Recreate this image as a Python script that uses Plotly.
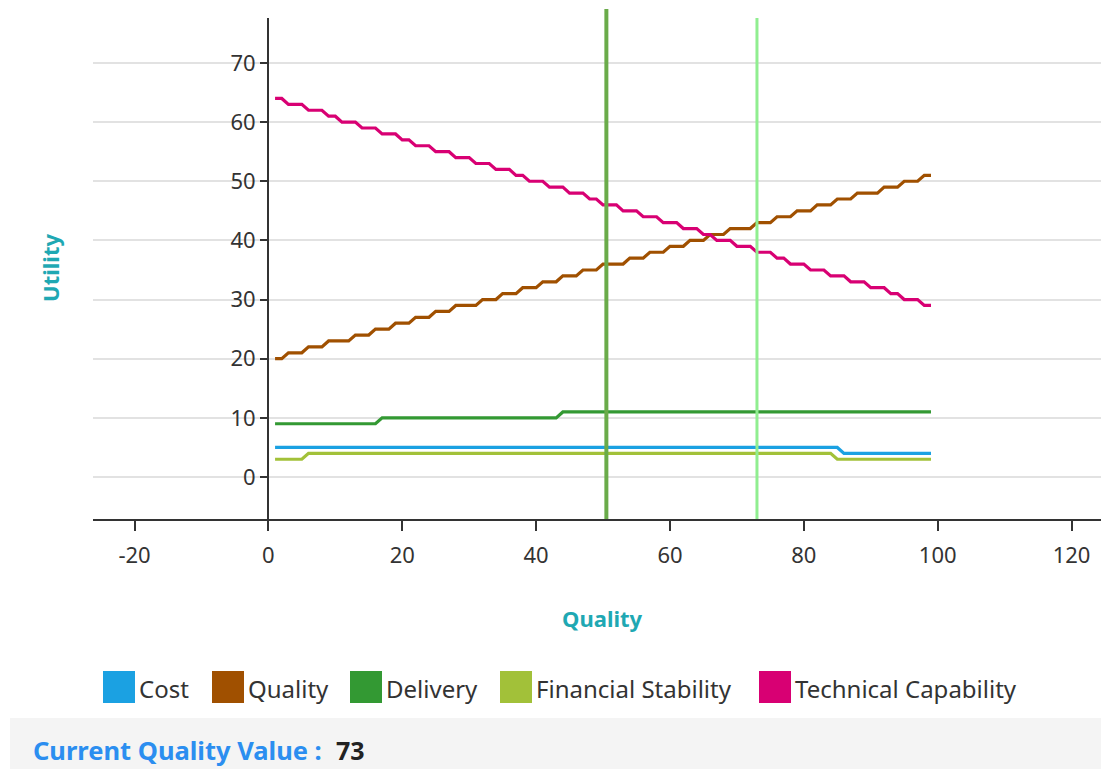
import plotly.graph_objects as go

# Quality levels evaluated (x axis)
quality_levels = list(range(1, 100))

# Utility of each criterion at every quality level
cost = [
    5, 5, 5, 5, 5, 5, 5, 5, 5, 5,
    5, 5, 5, 5, 5, 5, 5, 5, 5, 5,
    5, 5, 5, 5, 5, 5, 5, 5, 5, 5,
    5, 5, 5, 5, 5, 5, 5, 5, 5, 5,
    5, 5, 5, 5, 5, 5, 5, 5, 5, 5,
    5, 5, 5, 5, 5, 5, 5, 5, 5, 5,
    5, 5, 5, 5, 5, 5, 5, 5, 5, 5,
    5, 5, 5, 5, 5, 5, 5, 5, 5, 5,
    5, 5, 5, 5, 5, 4, 4, 4, 4, 4,
    4, 4, 4, 4, 4, 4, 4, 4, 4,
]
quality = [
    20, 20, 21, 21, 21, 22, 22, 22, 23, 23,
    23, 23, 24, 24, 24, 25, 25, 25, 26, 26,
    26, 27, 27, 27, 28, 28, 28, 29, 29, 29,
    29, 30, 30, 30, 31, 31, 31, 32, 32, 32,
    33, 33, 33, 34, 34, 34, 35, 35, 35, 36,
    36, 36, 36, 37, 37, 37, 38, 38, 38, 39,
    39, 39, 40, 40, 40, 41, 41, 41, 42, 42,
    42, 42, 43, 43, 43, 44, 44, 44, 45, 45,
    45, 46, 46, 46, 47, 47, 47, 48, 48, 48,
    48, 49, 49, 49, 50, 50, 50, 51, 51,
]
delivery = [
    9, 9, 9, 9, 9, 9, 9, 9, 9, 9,
    9, 9, 9, 9, 9, 9, 10, 10, 10, 10,
    10, 10, 10, 10, 10, 10, 10, 10, 10, 10,
    10, 10, 10, 10, 10, 10, 10, 10, 10, 10,
    10, 10, 10, 11, 11, 11, 11, 11, 11, 11,
    11, 11, 11, 11, 11, 11, 11, 11, 11, 11,
    11, 11, 11, 11, 11, 11, 11, 11, 11, 11,
    11, 11, 11, 11, 11, 11, 11, 11, 11, 11,
    11, 11, 11, 11, 11, 11, 11, 11, 11, 11,
    11, 11, 11, 11, 11, 11, 11, 11, 11,
]
financial_stability = [
    3, 3, 3, 3, 3, 4, 4, 4, 4, 4,
    4, 4, 4, 4, 4, 4, 4, 4, 4, 4,
    4, 4, 4, 4, 4, 4, 4, 4, 4, 4,
    4, 4, 4, 4, 4, 4, 4, 4, 4, 4,
    4, 4, 4, 4, 4, 4, 4, 4, 4, 4,
    4, 4, 4, 4, 4, 4, 4, 4, 4, 4,
    4, 4, 4, 4, 4, 4, 4, 4, 4, 4,
    4, 4, 4, 4, 4, 4, 4, 4, 4, 4,
    4, 4, 4, 4, 3, 3, 3, 3, 3, 3,
    3, 3, 3, 3, 3, 3, 3, 3, 3,
]
technical_capability = [
    64, 64, 63, 63, 63, 62, 62, 62, 61, 61,
    60, 60, 60, 59, 59, 59, 58, 58, 58, 57,
    57, 56, 56, 56, 55, 55, 55, 54, 54, 54,
    53, 53, 53, 52, 52, 52, 51, 51, 50, 50,
    50, 49, 49, 49, 48, 48, 48, 47, 47, 46,
    46, 46, 45, 45, 45, 44, 44, 44, 43, 43,
    43, 42, 42, 42, 41, 41, 40, 40, 40, 39,
    39, 39, 38, 38, 38, 37, 37, 36, 36, 36,
    35, 35, 35, 34, 34, 34, 33, 33, 33, 32,
    32, 32, 31, 31, 30, 30, 30, 29, 29,
]

series_names = ["Cost", "Quality", "Delivery", "Financial Stability", "Technical Capability"]
series_values = [cost, quality, delivery, financial_stability, technical_capability]
series_colors = ["#1ba1e2", "#a05000", "#339933", "#a2c139", "#d80073"]

# Marker lines on the quality axis
reference_quality = 50.5
current_quality = 73

x_ticks = [-20, 0, 20, 40, 60, 80, 100, 120]
x_tick_labels = ["-20", "0", "20", "40", "60", "80", "100", "120"]
y_ticks = [0, 10, 20, 30, 40, 50, 60, 70]

W, H = 1101, 769
ML, MR, MT, MB = 93, 0, 18, 250
PW, PH = W - ML - MR, H - MT - MB
FONT = "Noto Sans"
TEAL = "#1fa8b3"


def px_x(px):
    return (px - ML) / PW


def px_y(py):
    return (H - MB - py) / PH


fig = go.Figure()
for name, vals, color in zip(series_names, series_values, series_colors):
    fig.add_trace(go.Scatter(
        x=quality_levels, y=vals, name=name, mode="lines",
        line=dict(color=color, width=3.2), showlegend=False,
    ))

shapes = [
    # bottom status panel
    dict(type="rect", xref="paper", yref="paper", layer="below",
         x0=px_x(10), x1=px_x(W), y0=px_y(H), y1=px_y(718),
         fillcolor="#f4f4f4", line=dict(width=0)),
    dict(type="line", xref="x", yref="paper", x0=reference_quality, x1=reference_quality,
         y0=0, y1=px_y(9), line=dict(color="#6aab4a", width=4)),
    dict(type="line", xref="x", yref="paper", x0=current_quality, x1=current_quality,
         y0=0, y1=1, line=dict(color="#90ee90", width=3)),
]

annotations = [
    dict(text="<b>Utility</b>", xref="paper", yref="paper", x=px_x(50), y=px_y(268),
         textangle=-90, showarrow=False, font=dict(family=FONT, size=22, color=TEAL),
         xanchor="center", yanchor="middle"),
    dict(text="<b>Quality</b>", xref="paper", yref="paper", x=px_x(602), y=px_y(618),
         showarrow=False, font=dict(family=FONT, size=22, color=TEAL),
         xanchor="center", yanchor="middle"),
    dict(text="<b>Current Quality Value :</b>", xref="paper", yref="paper",
         x=px_x(31), y=px_y(750), showarrow=False, xanchor="left", yanchor="middle",
         font=dict(family=FONT, size=25.5, color="#2b8ef0")),
    dict(text=f"<b>{current_quality}</b>", xref="paper", yref="paper",
         x=px_x(334), y=px_y(750), showarrow=False, xanchor="left", yanchor="middle",
         font=dict(family=FONT, size=25, color="#222222")),
]

# Legend row with square swatches
legend_swatch_left = [103, 212, 350, 500, 759]
for name, color, left in zip(series_names, series_colors, legend_swatch_left):
    shapes.append(dict(type="rect", xref="paper", yref="paper",
                       x0=px_x(left), x1=px_x(left + 32), y0=px_y(703), y1=px_y(671),
                       fillcolor=color, line=dict(width=0)))
    annotations.append(dict(text=name, xref="paper", yref="paper",
                            x=px_x(left + 34), y=px_y(688), showarrow=False,
                            xanchor="left", yanchor="middle",
                            font=dict(family=FONT, size=24, color="#333333")))

fig.update_layout(
    width=W, height=H,
    margin=dict(l=ML, r=MR, t=MT, b=MB),
    paper_bgcolor="white", plot_bgcolor="white",
    showlegend=False,
    font=dict(family=FONT, size=22, color="#333333"),
    xaxis=dict(
        range=[-26.2, 124.4], tickvals=x_ticks, ticktext=x_tick_labels,
        showgrid=False, zeroline=False,
        showline=True, linecolor="#333333", linewidth=2,
        ticks="outside", ticklen=10, tickwidth=2, tickcolor="#333333",
        ticklabelstandoff=6,
        tickfont=dict(family=FONT, size=22, color="#333333"),
    ),
    yaxis=dict(
        range=[-7.1, 77.6], tickvals=y_ticks, anchor="free", position=px_x(268),
        showgrid=True, gridcolor="#e2e2e2", gridwidth=2, zeroline=False,
        showline=True, linecolor="#333333", linewidth=2,
        ticks="outside", ticklen=7, tickwidth=2, tickcolor="#333333",
        tickfont=dict(family=FONT, size=22, color="#333333"),
    ),
    shapes=shapes,
    annotations=annotations,
)

fig.write_html("out.html")
